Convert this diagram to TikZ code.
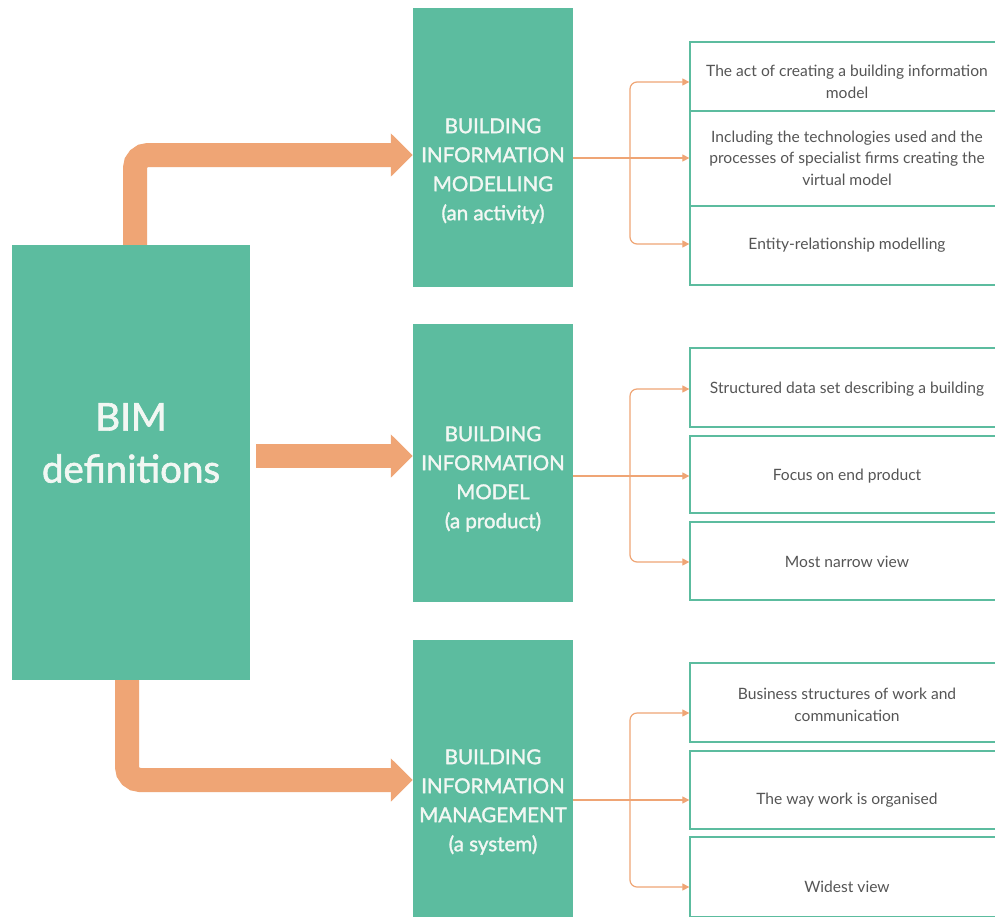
\documentclass[tikz,border=0pt]{standalone}
\usepackage{fontspec}
\setmainfont{Lato}
\newfontfamily\headfont{Lato}[FakeBold=1.6]
\usetikzlibrary{arrows.meta}

\definecolor{teal}{HTML}{5CBC9F}
\definecolor{peach}{HTML}{EFA575}
\definecolor{boxtext}{HTML}{555555}
\definecolor{headtext}{HTML}{F2F7F3}

\tikzset{
  x=1pt, y=-1pt,
  mainbox/.style={fill=teal, draw=none, minimum width=238pt, minimum height=435pt, inner sep=0pt},
  catbox/.style={fill=teal, draw=none, minimum width=160pt, inner sep=0pt},
  cattext/.style={text=headtext, align=center, font=\headfont\fontsize{20.5}{29}\selectfont},
  itembox/.style={draw=teal, line width=1.3pt, fill=white, minimum width=314pt, inner sep=0pt},
  itemtext/.style={text=boxtext, align=center, font=\fontsize{15.6}{21.5}\selectfont},
  bigarrow/.style={draw=peach, line width=24pt, rounded corners=13pt,
    -{Triangle[length=22pt,width=42pt]}},
  thinarrow/.style={draw=peach, line width=1.2pt, rounded corners=7pt,
    -{Triangle[length=7pt,width=7pt]}},
}

\begin{document}
\begin{tikzpicture}
\useasboundingbox (0,0) rectangle (995,916);
\clip (0,0) rectangle (995,916);
\fill[white] (0,0) rectangle (995,916);

% central definition box
\node[mainbox] (bim) at (131,462.5) {};
\node[text=headtext, align=center, font=\headfont\fontsize{38.5}{52}\selectfont] (bimt) at (131,443) {BIM\\definitions};

% the three categories
\node[catbox, minimum height=279pt] (act) at (493,147.5) {};
\node[catbox, minimum height=278pt] (prod) at (493,463) {};
\node[catbox, minimum height=282pt] (sys) at (493,781) {};
\node[cattext] (actt) at (493,171) {BUILDING\\INFORMATION\\MODELLING\\(an activity)};
\node[cattext] (prodt) at (493,479) {BUILDING\\INFORMATION\\MODEL\\(a product)};
\node[cattext] (syst) at (493,802) {BUILDING\\INFORMATION\\MANAGEMENT\\(a system)};

% descriptions of each category
\node[itembox, minimum height=69pt] (a1) at (847,76.5) {};
\node[itembox, minimum height=95pt] (a2) at (847,158.5) {};
\node[itembox, minimum height=79pt] (a3) at (847,245.5) {};
\node[itemtext] at (847,82) {The act of creating a building information\\model};
\node[itemtext] at (847,158) {Including the technologies used and the\\processes of specialist firms creating the\\virtual model};
\node[itemtext] at (847,245) {Entity-relationship modelling};

\node[itembox, minimum height=79pt] (p1) at (847,387.5) {};
\node[itembox, minimum height=77pt] (p2) at (847,474.5) {};
\node[itembox, minimum height=78pt] (p3) at (847,561) {};
\node[itemtext] at (847,389) {Structured data set describing a building};
\node[itemtext] at (847,476) {Focus on end product};
\node[itemtext] at (847,562) {Most narrow view};

\node[itembox, minimum height=79pt] (s1) at (847,702.5) {};
\node[itembox, minimum height=78pt] (s2) at (847,790) {};
\node[itembox, minimum height=80pt] (s3) at (847,877) {};
\node[itemtext] at (847,705) {Business structures of work and\\communication};
\node[itemtext] at (847,800) {The way work is organised};
\node[itemtext] at (847,887) {Widest view};

% thick arrows from the definition box
\draw[bigarrow] ([xshift=4pt]bim.north) |- (act.west |- 0,155);
\draw[bigarrow, shorten <=6pt] (bim.east |- 0,456) -- (prod.west |- 0,456);
\draw[bigarrow] ([xshift=-4pt]bim.south) |- (sys.west |- 0,780);

% branching connectors
\coordinate (ja) at (630,158);
\coordinate (jp) at (630,476);
\coordinate (js) at (630,800);

\draw[thinarrow] (act.east |- ja) -- (a2.west |- ja);
\draw[thinarrow] (ja) |- (a1.west |- 0,82);
\draw[thinarrow] (ja) |- (a3.west |- 0,244);

\draw[thinarrow] (prod.east |- jp) -- (p2.west |- jp);
\draw[thinarrow] (jp) |- (p1.west |- 0,389);
\draw[thinarrow] (jp) |- (p3.west |- 0,562);

\draw[thinarrow] (sys.east |- js) -- (s2.west |- js);
\draw[thinarrow] (js) |- (s1.west |- 0,713);
\draw[thinarrow] (js) |- (s3.west |- 0,887);
\end{tikzpicture}
\end{document}
